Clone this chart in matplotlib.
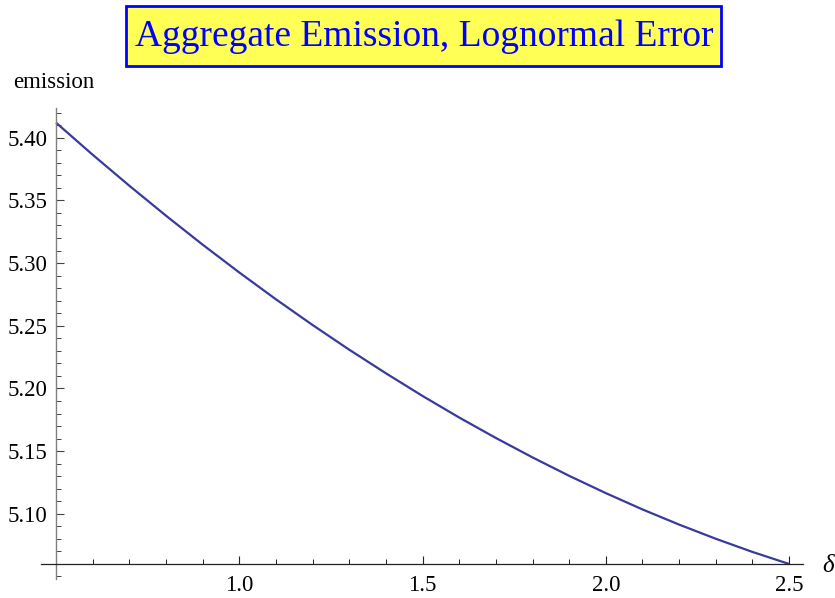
import numpy as np
import matplotlib
matplotlib.use("Agg")
import matplotlib.pyplot as plt
from matplotlib.patches import Rectangle
from matplotlib.ticker import MultipleLocator, FixedLocator

# values
delta = [0.5, 0.6, 0.7, 0.8, 0.9, 1.0, 1.1, 1.2, 1.3, 1.4, 1.5,
         1.6, 1.7, 1.8, 1.9, 2.0, 2.1, 2.2, 2.3, 2.4, 2.5]
emission = [5.4120, 5.3864, 5.3617, 5.3378, 5.3147, 5.2925, 5.2711, 5.2506, 5.2309,
            5.2121, 5.1940, 5.1768, 5.1605, 5.1450, 5.1303, 5.1165, 5.1035, 5.0914,
            5.0801, 5.0696, 5.0600]
x_ticks = [1.0, 1.5, 2.0, 2.5]
x_labels = ["1.0", "1.5", "2.0", "2.5"]
y_ticks = [5.10, 5.15, 5.20, 5.25, 5.30, 5.35, 5.40]
y_labels = ["5.10", "5.15", "5.20", "5.25", "5.30", "5.35", "5.40"]

plt.rcParams['font.family'] = ['Liberation Serif', 'DejaVu Serif']

W, H = 835, 598
fig = plt.figure(figsize=(W / 100, H / 100), dpi=100)
ax = fig.add_axes([41 / W, 1 - 579 / H, 762 / W, 471 / H])
ax.patch.set_alpha(0)

ax.plot(delta, emission, color="#3a3a9c", lw=1.6, solid_capstyle="butt")

ax.set_xlim(0.459, 2.538)
ax.set_ylim(5.048, 5.4237)

ax.spines["top"].set_visible(False)
ax.spines["right"].set_visible(False)
ax.spines["left"].set_position(("data", 0.5))
ax.spines["bottom"].set_position(("data", 5.06))
ax.spines["left"].set_color("#808080")
ax.spines["bottom"].set_color("#222222")
ax.spines["left"].set_linewidth(1.0)
ax.spines["bottom"].set_linewidth(0.9)

ax.xaxis.set_major_locator(FixedLocator(x_ticks))
ax.set_xticklabels(x_labels)
ax.xaxis.set_minor_locator(MultipleLocator(0.1))
ax.yaxis.set_major_locator(FixedLocator(y_ticks))
ax.set_yticklabels(y_labels)
ax.yaxis.set_minor_locator(MultipleLocator(0.01))

ax.tick_params(axis="x", which="major", direction="in", length=6, width=0.8,
               color="#222222", labelsize=16.5, pad=8)
ax.tick_params(axis="x", which="minor", direction="in", length=3.5, width=0.7,
               color="#222222")
ax.tick_params(axis="y", which="major", direction="in", length=6, width=0.8,
               color="#444444", labelsize=16.5, pad=6)
ax.tick_params(axis="y", which="minor", direction="in", length=3.5, width=0.7,
               color="#444444")

fig.text(13 / W, 1 - 88 / H, "emission", fontsize=16.5, ha="left", va="baseline")
fig.text(828 / W, 1 - 566 / H, "\u03b4", fontsize=18, style="italic",
         ha="center", va="center")

# title box
fig.patches.append(Rectangle((126 / W, 1 - 66 / H), 595 / W, 60 / H,
                             transform=fig.transFigure, fc="#ffff55",
                             ec="#0000ff", lw=2, zorder=1))
fig.text(424 / W, 1 - 37 / H, "Aggregate Emission, Lognormal Error",
         fontsize=27, color="#0000ff", ha="center", va="center", zorder=2)

fig.savefig("out.png", dpi=100)
